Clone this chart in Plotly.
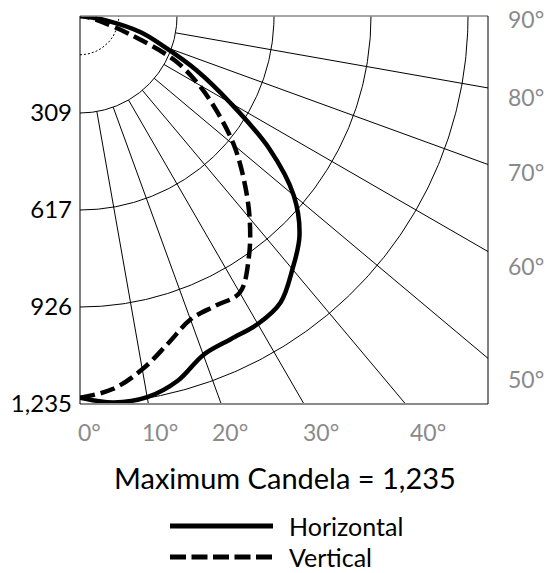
import numpy as np
import plotly.graph_objects as go

# ---------------- data ----------------
max_candela = 1235
angles_deg = [0, 5, 10, 15, 20, 25, 30, 35, 40, 45, 50, 55, 60, 65, 70, 75, 80, 85, 90]
horizontal_cd = [1215, 1235, 1232, 1202, 1148, 1135, 1132, 1113, 1052, 988, 888, 735, 552, 410, 285, 200, 90, 20, 0]
vertical_cd = [1215, 1192, 1142, 1080, 1028, 1018, 1017, 937, 840, 738, 640, 534, 436, 330, 165, 72, 30, 10, 0]

ring_values = [308.75, 617.5, 926.25, 1235]
ring_labels = ["309", "617", "926", "1,235"]
inner_ring_value = 123.5
spoke_angles = [10, 20, 30, 40, 50, 60, 70, 80]
bottom_angle_labels = ["0°", "10°", "20°", "30°", "40°"]
right_angle_labels = ["50°", "60°", "70°", "80°", "90°"]
title_text = "Maximum Candela = 1,235"
series_names = ["Horizontal", "Vertical"]

# ---------------- geometry ----------------
W, H = 548, 573
L, R, T, B = 80, 60, 16, 169
pw, ph = W - L - R, H - T - B
Y_MAX = max_candela
X_MAX = Y_MAX * pw / ph


def to_xy(theta_deg, r):
    t = np.radians(np.asarray(theta_deg, dtype=float))
    r = np.asarray(r, dtype=float)
    return r * np.sin(t), -r * np.cos(t)


def px_to_paper(px, py):
    return (px - L) / pw, (T + ph - py) / ph


fig = go.Figure()

# rings
arc_t = np.linspace(0, 90, 181)
for rv in ring_values:
    ax_, ay_ = to_xy(arc_t, np.full_like(arc_t, rv))
    fig.add_trace(go.Scatter(x=ax_, y=ay_, mode="lines", line=dict(color="black", width=1),
                             hoverinfo="skip", showlegend=False))
ax_, ay_ = to_xy(arc_t, np.full_like(arc_t, inner_ring_value))
fig.add_trace(go.Scatter(x=ax_, y=ay_, mode="lines", line=dict(color="black", width=1, dash="2px,2px"),
                         hoverinfo="skip", showlegend=False))

# spokes
shapes = []
for a in spoke_angles:
    x0, y0 = to_xy(a, ring_values[0])
    t = np.radians(a)
    if Y_MAX * np.tan(t) <= X_MAX:
        x1, y1 = Y_MAX * np.tan(t), -Y_MAX
    else:
        x1, y1 = X_MAX, -X_MAX / np.tan(t)
    shapes.append(dict(type="line", xref="x", yref="y", x0=float(x0), y0=float(y0), x1=float(x1), y1=float(y1),
                       line=dict(color="black", width=1), layer="below"))

# curves
vx, vy = to_xy(angles_deg, vertical_cd)
hx, hy = to_xy(angles_deg, horizontal_cd)
fig.add_trace(go.Scatter(x=vx, y=vy, mode="lines", name=series_names[1],
                         line=dict(color="black", width=4.5, dash="15px,6px", shape="spline"),
                         cliponaxis=False, showlegend=False))
fig.add_trace(go.Scatter(x=hx, y=hy, mode="lines", name=series_names[0],
                         line=dict(color="black", width=4.5, shape="spline"),
                         cliponaxis=False, showlegend=False))

# frame
gray = "#8a8a8a"
shapes += [
    dict(type="line", xref="paper", yref="paper", x0=0, x1=1, y0=1, y1=1, line=dict(color=gray, width=1.5)),
    dict(type="line", xref="paper", yref="paper", x0=0, x1=1, y0=0, y1=0, line=dict(color=gray, width=2)),
    dict(type="line", xref="paper", yref="paper", x0=0, x1=0, y0=0, y1=1, line=dict(color="black", width=1)),
    dict(type="line", xref="paper", yref="paper", x0=1, x1=1, y0=0, y1=1, line=dict(color="black", width=1)),
]

# legend (manual)
lx0, _ = px_to_paper(170, 0)
lx1, _ = px_to_paper(273, 0)
_, ly_h = px_to_paper(0, 526)
_, ly_v = px_to_paper(0, 557)
shapes += [
    dict(type="line", xref="paper", yref="paper", x0=lx0, x1=lx1, y0=ly_h, y1=ly_h,
         line=dict(color="black", width=5)),
    dict(type="line", xref="paper", yref="paper", x0=lx0, x1=lx1, y0=ly_v, y1=ly_v,
         line=dict(color="black", width=5, dash="16px,5.5px")),
]

font_family = "Lato"
annotations = []
bottom_px = [76, 140, 210, 301, 408]
for lab, px in zip(bottom_angle_labels, bottom_px):
    xp, yp = px_to_paper(px, 432)
    annotations.append(dict(text=lab, x=xp, y=yp, xref="paper", yref="paper", xanchor="left", yanchor="middle",
                            showarrow=False, font=dict(family=font_family, size=23, color=gray)))
right_py = [379, 266, 172, 97, 19]
for lab, py in zip(right_angle_labels, right_py):
    xp, yp = px_to_paper(506, py)
    annotations.append(dict(text=lab, x=xp, y=yp, xref="paper", yref="paper", xanchor="left", yanchor="middle",
                            showarrow=False, font=dict(family=font_family, size=23, color=gray)))

xp, yp = px_to_paper(284.5, 477)
annotations.append(dict(text=title_text, x=xp, y=yp, xref="paper", yref="paper", xanchor="center",
                        yanchor="middle", showarrow=False, font=dict(family=font_family, size=29, color="black")))
for name, py in zip(series_names, [526, 557]):
    xp, yp = px_to_paper(287, py)
    annotations.append(dict(text=name, x=xp, y=yp, xref="paper", yref="paper", xanchor="left", yanchor="middle",
                            showarrow=False, font=dict(family=font_family, size=25, color="black")))

fig.update_layout(
    width=W, height=H,
    margin=dict(l=L, r=R, t=T, b=B, pad=0),
    paper_bgcolor="white", plot_bgcolor="white",
    showlegend=False,
    shapes=shapes,
    annotations=annotations,
    xaxis=dict(range=[0, X_MAX], showgrid=False, zeroline=False, showline=False, showticklabels=False,
               ticks="", fixedrange=True),
    yaxis=dict(range=[-Y_MAX, 0], showgrid=False, zeroline=False, showline=False, ticks="",
               tickvals=[-v for v in ring_values], ticktext=ring_labels, ticklabelstandoff=7,
               tickfont=dict(family=font_family, size=24, color="black"), fixedrange=True),
)

fig.write_html(
    "out.html",
    config={"displayModeBar": False},
    post_script="document.body.style.margin='0';document.body.style.overflow='hidden';",
)
